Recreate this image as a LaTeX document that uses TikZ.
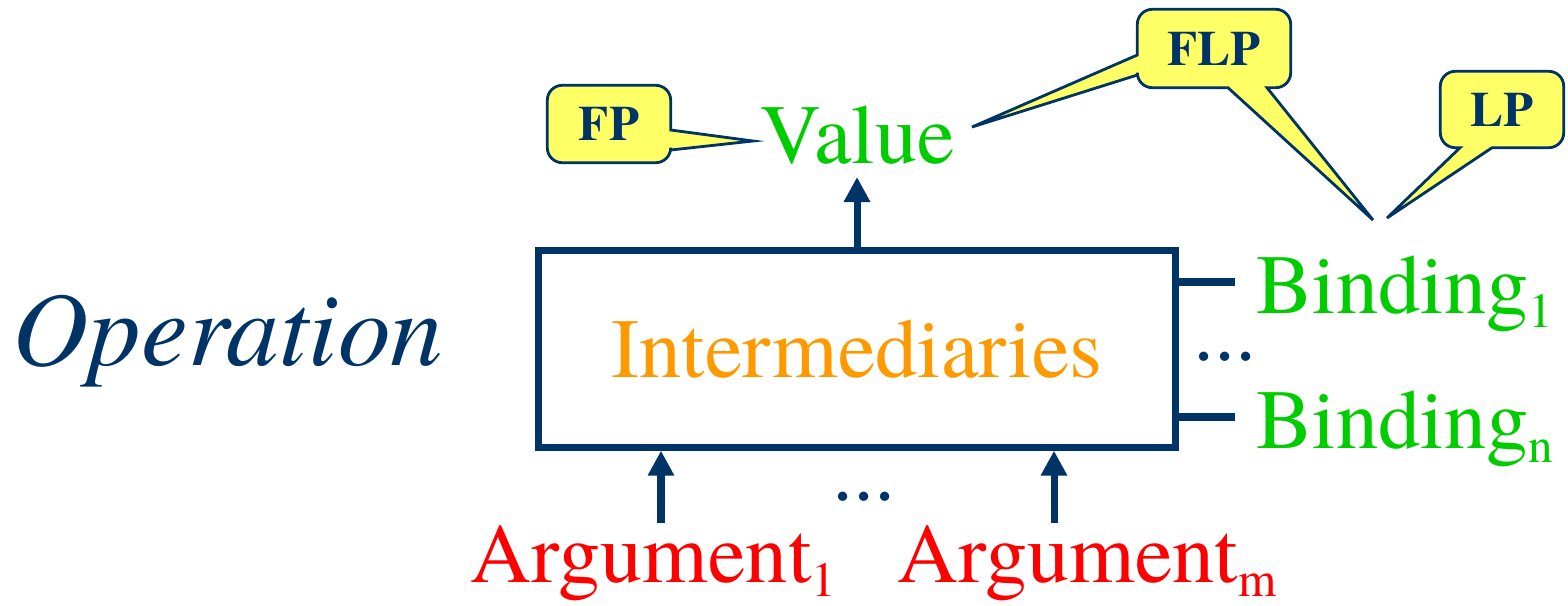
\documentclass[tikz,border=0pt]{standalone}
\usepackage{fontspec}
\setmainfont{TeX Gyre Termes}
\usepackage{tikz}
\usetikzlibrary{positioning, arrows.meta, calc, backgrounds}
\usepackage{xcolor}
\definecolor{opnavy}{HTML}{003366}
\definecolor{valgreen}{HTML}{00CC00}
\definecolor{midorange}{HTML}{FF9900}
\definecolor{argred}{HTML}{FF0000}
\definecolor{notebg}{HTML}{FFFF66}
\newcommand{\idx}[1]{\raisebox{-4pt}{\fontsize{14}{14}\selectfont #1}}
\tikzset{
  lbl/.style={inner sep=0pt, font=\fontsize{24}{28}\selectfont},
  opbox/.style={draw=opnavy, line width=1.8pt, minimum width=6.37cm,
                minimum height=1.97cm, inner sep=0pt, text=midorange,
                font=\fontsize{24}{28}\selectfont},
  wire/.style={draw=opnavy, line width=2pt},
  arrow/.style={wire, -{Triangle[length=2.5mm, width=2.5mm]}},
  notetext/.style={inner sep=0pt, text=opnavy,
                   font=\fontsize{14}{16}\selectfont\bfseries},
  note/.style={draw=opnavy, fill=notebg, line width=0.8pt},
}

\begin{document}
\begin{tikzpicture}
\useasboundingbox (0,0) rectangle (15.68,6.05);

%% ====================  OPERATION BOX  ====================

\node[opbox] (box) at (8.57,2.56) {Intermediaries};
\node[lbl, text=opnavy, font=\fontsize{30}{34}\selectfont\itshape, anchor=base west]
  (op) at (0.12,2.40) {Operation};

%% ====================  VALUE / BINDINGS  ====================

\node[lbl, text=valgreen, anchor=base west] (val) at (7.60,4.42) {Value};
\node[lbl, text=valgreen, anchor=base west] (bnd1) at (12.56,2.92) {Binding\idx{1}};
\node[lbl, text=valgreen, anchor=base west] (bndn) at (12.56,1.57) {Binding\idx{n}};
\node[lbl, text=opnavy] (vdots) at (12.25,2.48) {...};

%% ====================  ARGUMENTS  ====================

\node[lbl, text=argred, anchor=base west] (arg1) at (4.70,0.23) {Argument\idx{1}};
\node[lbl, text=argred, base right=0.6cm of arg1] (argm) {Argument\idx{m}};
\node[lbl, text=opnavy] (hdots) at (8.64,1.08) {...};

%% ====================  CALLOUTS  ====================

\node[notetext, minimum width=1.22cm, minimum height=0.76cm] (fp) at (6.09,4.81) {FP};
\node[notetext, minimum width=1.52cm, minimum height=0.77cm] (flp) at (12.14,5.565) {FLP};
\node[notetext, minimum width=1.22cm, minimum height=0.75cm] (lp) at (15.02,4.955) {LP};

\coordinate (fptip)   at (7.53,4.64);
\coordinate (flptipv) at (9.72,4.78);
\coordinate (flptipb) at (13.73,3.85);
\coordinate (lptip)   at (13.87,3.87);

\begin{scope}[on background layer]
\filldraw[note, rounded corners=1.5mm] (fp.north west) -- (fp.north east)
  [sharp corners] -- ([yshift=-0.06cm]fp.east) -- (fptip) -- ([yshift=-0.26cm]fp.east)
  [rounded corners=1.5mm] -- (fp.south east) -- (fp.south west) -- cycle;
\filldraw[note, rounded corners=1.5mm] (flp.north west) -- (flp.north east) -- (flp.south east)
  [sharp corners] -- ([xshift=0.53cm]flp.south) -- (flptipb) -- ([xshift=0.14cm]flp.south)
  [rounded corners=1.5mm] -- (flp.south west)
  [sharp corners] -- ([yshift=-0.265cm]flp.west) -- (flptipv) -- ([yshift=-0.065cm]flp.west)
  [rounded corners=1.5mm] -- cycle;
\filldraw[note, rounded corners=1.5mm] (lp.north west) -- (lp.north east) -- (lp.south east)
  [sharp corners] -- ([xshift=-0.10cm]lp.south) -- (lptip) -- ([xshift=-0.42cm]lp.south)
  [rounded corners=1.5mm] -- (lp.south west) -- cycle;
\end{scope}

%% ====================  ARROWS  ====================

\coordinate (valin) at ($(val.base)+(0,-0.14)$);
\draw[arrow] (box.north) -- (box.north |- valin);

\coordinate (in1) at (6.61,0.82);
\coordinate (inm) at (10.54,0.82);
\draw[arrow] (in1) -- (in1 |- box.south);
\draw[arrow] (inm) -- (inm |- box.south);

%% binding stubs
\coordinate (s1) at ($(bnd1.base west)+(-0.21,0.31)$);
\coordinate (sn) at ($(bndn.base west)+(-0.21,0.31)$);
\draw[wire] (box.east |- s1) -- (s1);
\draw[wire] (box.east |- sn) -- (sn);

\end{tikzpicture}
\end{document}
